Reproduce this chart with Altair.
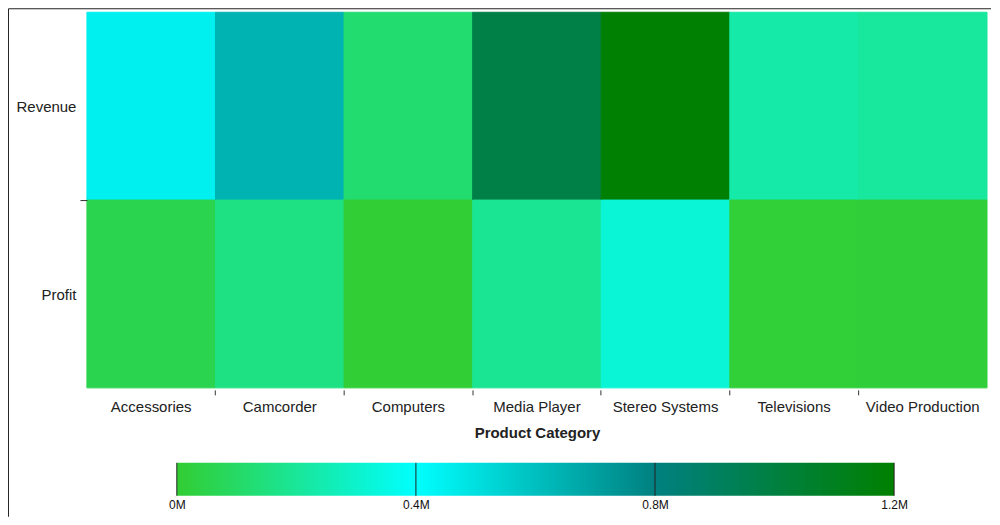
import altair as alt
import pandas as pd

categories = ["Accessories", "Camcorder", "Computers", "Media Player",
              "Stereo Systems", "Televisions", "Video Production"]
measures = ["Revenue", "Profit"]
revenue = [450000, 640000, 120000, 980000, 1190000, 230000, 210000]
profit = [55000, 160000, 8000, 190000, 320000, 12000, 15000]

color_stops = [0, 400000, 800000, 1200000]
color_range = ["#32CD32", "#00FFFF", "#008080", "#008000"]

rows = []
for c, r, p in zip(categories, revenue, profit):
    rows.append({"category": c, "measure": "Revenue", "amount": r})
    rows.append({"category": c, "measure": "Profit", "amount": p})
df = pd.DataFrame(rows)

W, H = 901, 376
FONT = "Liberation Sans"

color_scale = alt.Scale(domain=color_stops, range=color_range, interpolate="rgb")

heat = alt.Chart(df).mark_rect(strokeWidth=1).encode(
    x=alt.X("category:N", sort=categories, title="Product Category",
            scale=alt.Scale(paddingInner=0, paddingOuter=0),
            axis=alt.Axis(labelAngle=0, domain=False, bandPosition=1,
                          tickSize=5, offset=2, labelPadding=5,
                          tickColor={"condition": {"test": "datum.value === 'Video Production'",
                                                   "value": "transparent"}, "value": "#333"},
                          labelFont=FONT, labelFontSize=15, labelColor="#222",
                          titleFont=FONT, titleFontSize=15, titleFontWeight="bold",
                          titleColor="#222", titlePadding=11)),
    y=alt.Y("measure:N", sort=measures, title=None,
            scale=alt.Scale(paddingInner=0, paddingOuter=0),
            axis=alt.Axis(domain=False, bandPosition=1, tickSize=7, labelPadding=4,
                          labelOffset=1,
                          tickColor={"condition": {"test": "datum.value === 'Profit'",
                                                   "value": "transparent"}, "value": "#333"},
                          labelFont=FONT, labelFontSize=15, labelColor="#222")),
    color=alt.Color("amount:Q", scale=color_scale, legend=None),
    stroke=alt.Stroke("amount:Q", scale=color_scale, legend=None),
)

frame_df = pd.DataFrame({"k": [0]})
frame_top = alt.Chart(frame_df).mark_rule(color="#222", strokeWidth=1).encode(
    x=alt.value(-78.5), x2=alt.value(905), y=alt.value(-3.5))
frame_left = alt.Chart(frame_df).mark_rule(color="#222", strokeWidth=1).encode(
    x=alt.value(-78.5), y=alt.value(-3.5), y2=alt.value(505))

top = alt.layer(heat, frame_top, frame_left).properties(width=W, height=H)

cb_df = pd.DataFrame({"start": [color_stops[0]], "end": [color_stops[-1]]})
tick_df = pd.DataFrame({"v": color_stops})
xs = alt.Scale(domain=[color_stops[0], color_stops[-1]], range=[90, 808])

gradient = alt.LinearGradient(
    gradient="linear", x1=0, x2=1, y1=0, y2=0,
    stops=[alt.GradientStop(color=c, offset=o / color_stops[-1])
           for c, o in zip(color_range, color_stops)])

bar = alt.Chart(cb_df).mark_rect(color=gradient).encode(
    x=alt.X("start:Q", scale=xs, title=None,
            axis=alt.Axis(values=color_stops, domain=False, ticks=False, grid=False,
                          labelExpr="datum.value / 1000000 + 'M'",
                          labelFont=FONT, labelFontSize=12, labelColor="#111",
                          labelPadding=4, labelFlush=False, labelOverlap=False)),
    x2="end:Q",
)
rules = alt.Chart(tick_df).mark_rule(color="#222", strokeWidth=1).encode(
    x=alt.X("v:Q", scale=xs))

bottom = alt.layer(bar, rules).properties(width=W, height=33)

chart = alt.vconcat(top, bottom, spacing=75, bounds="flush").properties(
    padding=0
).configure_view(stroke=None)

chart.save("out.html", embed_options={"renderer": "svg", "actions": False})
